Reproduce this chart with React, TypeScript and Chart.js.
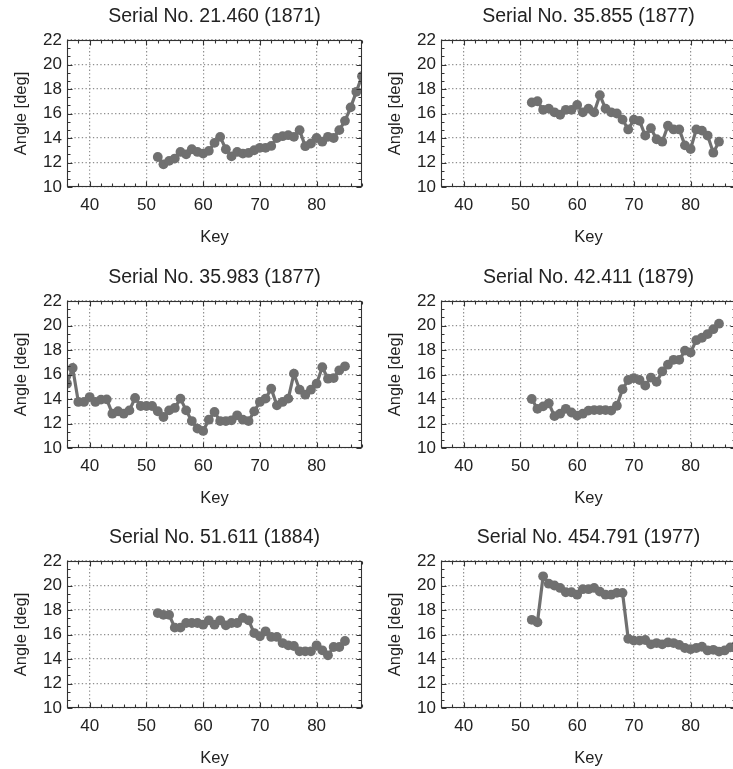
import React, { useEffect, useRef } from "react";
import { Chart, registerables } from "chart.js";

Chart.register(...registerables);

const FONT = '"Liberation Sans", Arial, Helvetica, sans-serif';
const GRAY = "#707070";
const TEXT = "#222222";

// ---- data ----
const panelTitles = [
  "Serial No. 21.460 (1871)",
  "Serial No. 35.855 (1877)",
  "Serial No. 35.983 (1877)",
  "Serial No. 42.411 (1879)",
  "Serial No. 51.611 (1884)",
  "Serial No. 454.791 (1977)",
];

const firstKeys = [52, 52, 36, 52, 52, 52];

const angles21460 = [
  12.45, 11.85, 12.13, 12.32, 12.86, 12.67, 13.08, 12.86, 12.73, 12.95, 13.6, 14.09,
  13.08, 12.5, 12.86, 12.73, 12.78, 13.0, 13.2, 13.2, 13.35, 14.0, 14.15, 14.23, 14.1,
  14.64, 13.33, 13.55, 14.0, 13.7, 14.1, 14.0, 14.64, 15.4, 16.5, 17.77, 19.05,
];

const angles35855 = [
  16.9, 17.0, 16.3, 16.4, 16.1, 15.9, 16.3, 16.3, 16.7, 16.1, 16.4, 16.1, 17.5, 16.4,
  16.1, 16.0, 15.5, 14.7, 15.5, 15.4, 14.2, 14.8, 13.9, 13.7, 15.0, 14.7, 14.7, 13.4,
  13.1, 14.7, 14.6, 14.2, 12.8, 13.7,
];

const angles35983 = [
  15.25, 16.53, 13.76, 13.76, 14.16, 13.76, 13.95, 13.97, 12.8, 13.0, 12.8, 13.07,
  14.08, 13.43, 13.43, 13.43, 13.0, 12.53, 13.07, 13.27, 14.03, 13.07, 12.2, 11.58,
  11.39, 12.31, 12.94, 12.2, 12.2, 12.26, 12.67, 12.31, 12.2, 12.99, 13.76, 14.03,
  14.84, 13.48, 13.76, 14.03, 16.07, 14.76, 14.35, 14.76, 15.25, 16.6, 15.66, 15.71,
  16.34, 16.67,
];

const angles42411 = [
  14.0, 13.2, 13.4, 13.65, 12.6, 12.8, 13.2, 12.9, 12.65, 12.8, 13.05, 13.1, 13.1, 13.1,
  13.05, 13.45, 14.8, 15.55, 15.7, 15.55, 15.1, 15.75, 15.4, 16.25, 16.8, 17.2, 17.2,
  17.95, 17.8, 18.8, 19.0, 19.3, 19.7, 20.15,
];

const angles51611 = [
  17.75, 17.6, 17.6, 16.56, 16.56, 16.94, 16.94, 16.94, 16.8, 17.16, 16.8, 17.16, 16.75,
  16.94, 16.94, 17.35, 17.16, 16.12, 15.85, 16.26, 15.8, 15.8, 15.3, 15.12, 15.06,
  14.63, 14.63, 14.63, 15.12, 14.71, 14.3, 14.98, 14.98, 15.47,
];

const angles454791 = [
  17.2, 17.0, 20.75, 20.15, 20.0, 19.8, 19.45, 19.45, 19.25, 19.7, 19.7, 19.8, 19.5,
  19.25, 19.25, 19.4, 19.4, 15.65, 15.5, 15.5, 15.55, 15.2, 15.3, 15.2, 15.35, 15.3,
  15.15, 14.9, 14.8, 14.9, 15.0, 14.7, 14.75, 14.6, 14.7, 14.95, 15.1,
];

const panelValues = [angles21460, angles35855, angles35983, angles42411, angles51611, angles454791];

const xTickValues = [40, 50, 60, 70, 80];
const yTickValues = [10, 12, 14, 16, 18, 20, 22];
const X_MIN = 36;
const X_MAX = 88;
const Y_MIN = 10;
const Y_MAX = 22;
const xAxisLabel = "Key";
const yAxisLabel = "Angle [deg]";

// ---- layout ----
const CANVAS_W = 367;
const CANVAS_H = 260;
const COL_LEFT = [0, 374];
const ROW_TOP = [0, 261, 521];

const framePlugin = {
  id: "frameTicks",
  afterDatasetsDraw(chart: any) {
    const { ctx, chartArea: a, scales } = chart;
    const xs = scales.x;
    const ys = scales.y;
    const L = Math.round(a.left) + 0.5;
    const R = Math.round(a.right) - 0.5;
    const T = Math.round(a.top) + 0.5;
    const B = Math.round(a.bottom) - 0.5;
    ctx.save();
    ctx.strokeStyle = "#333333";
    ctx.lineWidth = 1.1;
    ctx.strokeRect(L, T, R - L, B - T);
    ctx.beginPath();
    // x ticks (major every 10, minor every 2)
    for (let v = X_MIN; v <= X_MAX + 1e-6; v += 2) {
      const px = Math.round(xs.getPixelForValue(v)) + 0.5;
      const len = Math.abs(v % 10) < 1e-6 ? 5 : 3;
      ctx.moveTo(px, B);
      ctx.lineTo(px, B - len);
      ctx.moveTo(px, T);
      ctx.lineTo(px, T + len);
    }
    // y ticks (major every 2, minor every 2/3)
    for (let i = 0; i <= 18; i++) {
      const v = Y_MIN + (i * 2) / 3;
      const py = Math.round(ys.getPixelForValue(v)) + 0.5;
      const len = i % 3 === 0 ? 5 : 3;
      ctx.moveTo(L, py);
      ctx.lineTo(L + len, py);
      ctx.moveTo(R, py);
      ctx.lineTo(R - len, py);
    }
    ctx.stroke();
    ctx.restore();
  },
};

function Panel(props: { title: string; start: number; values: number[]; left: number; top: number }) {
  const ref = useRef<HTMLCanvasElement>(null);
  useEffect(() => {
    const keys = props.values.map((_, i) => props.start + i);
    const points = keys.map((k, i) => ({ x: k, y: props.values[i] }));
    const gridCommon = {
      color: "#8f8f8f",
      lineWidth: 1.2,
      drawTicks: false,
    };
    const chart = new Chart(ref.current as HTMLCanvasElement, {
      type: "line",
      data: {
        datasets: [
          {
            data: points,
            borderColor: GRAY,
            backgroundColor: GRAY,
            pointBackgroundColor: GRAY,
            pointBorderColor: GRAY,
            pointBorderWidth: 0,
            pointRadius: 4.9,
            borderWidth: 3.2,
            tension: 0,
            clip: 0,
          } as any,
        ],
      },
      options: {
        responsive: false,
        animation: false,
        devicePixelRatio: 1,
        events: [],
        layout: { padding: { left: 0, right: 5, top: 0, bottom: 0 } },
        plugins: {
          legend: { display: false },
          tooltip: { enabled: false },
          title: {
            display: true,
            fullSize: false,
            text: props.title,
            color: TEXT,
            font: { family: FONT, size: 19.5, weight: "normal" as any },
            padding: { top: 5.3, bottom: 11.3 },
          },
        },
        scales: {
          x: {
            type: "linear",
            min: X_MIN,
            max: X_MAX,
            afterBuildTicks: (axis: any) => {
              axis.ticks = xTickValues.map((v) => ({ value: v }));
            },
            afterFit: (scale: any) => {
              scale.height = 73;
            },
            grid: gridCommon,
            border: { display: false, dash: [1.3, 2.4] },
            ticks: {
              padding: 8,
              color: TEXT,
              font: { family: FONT, size: 17 },
              maxRotation: 0,
            },
            title: {
              display: true,
              text: xAxisLabel,
              color: TEXT,
              font: { family: FONT, size: 16.5 },
              padding: { top: 0, bottom: 13 },
            },
          },
          y: {
            type: "linear",
            min: Y_MIN,
            max: Y_MAX,
            afterBuildTicks: (axis: any) => {
              axis.ticks = yTickValues.map((v) => ({ value: v }));
            },
            afterFit: (scale: any) => {
              scale.width = 67;
            },
            grid: gridCommon,
            border: { display: false, dash: [1.3, 2.4] },
            ticks: {
              padding: 5,
              color: TEXT,
              font: { family: FONT, size: 17 },
            },
            title: {
              display: true,
              text: yAxisLabel,
              color: TEXT,
              font: { family: FONT, size: 16.5 },
              padding: { top: 12, bottom: 0 },
            },
          },
        },
      } as any,
      plugins: [framePlugin],
    });
    return () => chart.destroy();
  }, []);
  return (
    <canvas
      ref={ref}
      width={CANVAS_W}
      height={CANVAS_H}
      style={{ position: "absolute", left: props.left, top: props.top, width: CANVAS_W, height: CANVAS_H }}
    />
  );
}

export default function App() {
  return (
    <div
      style={{
        position: "absolute",
        left: 0,
        top: 0,
        width: 733,
        height: 769,
        overflow: "hidden",
        background: "#ffffff",
      }}
    >
      {panelTitles.map((t, i) => (
        <Panel
          key={t}
          title={t}
          start={firstKeys[i]}
          values={panelValues[i]}
          left={COL_LEFT[i % 2]}
          top={ROW_TOP[Math.floor(i / 2)]}
        />
      ))}
    </div>
  );
}
